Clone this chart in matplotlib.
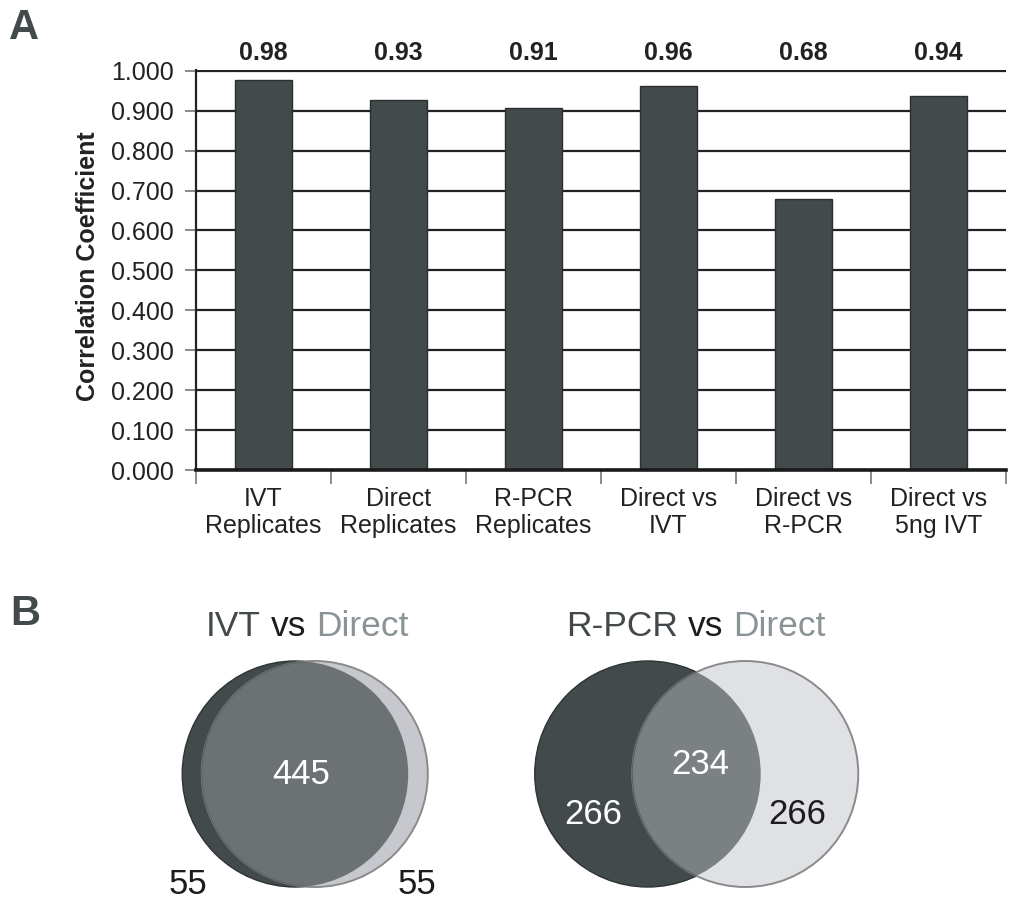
import numpy as np
import matplotlib
matplotlib.use("Agg")
import matplotlib.pyplot as plt
from matplotlib.patches import Circle
from matplotlib.offsetbox import TextArea, HPacker, AnnotationBbox

plt.rcParams['font.family'] = ['Liberation Sans', 'DejaVu Sans']

# panel A data
categories = ["IVT\nReplicates", "Direct\nReplicates", "R-PCR\nReplicates",
              "Direct vs\nIVT", "Direct vs\nR-PCR", "Direct vs\n5ng IVT"]
corr = [0.978, 0.926, 0.907, 0.962, 0.680, 0.936]
corr_labels = ["0.98", "0.93", "0.91", "0.96", "0.68", "0.94"]

# panel B data
venn_a = ["IVT", "R-PCR"]
venn_b = ["Direct", "Direct"]
only_a = [55, 266]
shared = [445, 234]
only_b = [55, 266]

DARK = '#434a4c'

fig = plt.figure(figsize=(10.09, 9.0), dpi=100)

# ---- panel B : venn diagrams in pixel coordinates
vax = fig.add_axes([0, 0, 1, 1])
vax.set_xlim(0, 1009)
vax.set_ylim(900, 0)
vax.axis('off')


def lens_frac(d, r):
    if d >= 2 * r:
        return 0.0
    a = 2 * r * r * np.arccos(d / (2 * r)) - 0.5 * d * np.sqrt(4 * r * r - d * d)
    return a / (np.pi * r * r)


def center_dist(frac, r):
    lo, hi = 0.0, 2 * r
    for _ in range(60):
        mid = (lo + hi) / 2
        if lens_frac(mid, r) > frac:
            lo = mid
        else:
            hi = mid
    return (lo + hi) / 2


R = 113
venn_cx = [305, 696.5]
venn_cy = 774
light_cols = ['#c7c8cd', '#dfe1e5']
over_cols = ['#6c7274', '#7b8182']

for i in range(2):
    frac = shared[i] / (only_a[i] + shared[i])
    d = center_dist(frac, R)
    ca = (venn_cx[i] - d / 2, venn_cy)
    cb = (venn_cx[i] + d / 2, venn_cy)
    dark = Circle(ca, R, fc=DARK, ec='#2e3335', lw=1, zorder=1)
    light = Circle(cb, R, fc=light_cols[i], ec='#8a8a8a', lw=1.4, zorder=2)
    vax.add_patch(dark)
    vax.add_patch(light)
    over = Circle(cb, R, fc=over_cols[i], ec='#5a5f61', lw=0.8, zorder=3)
    vax.add_patch(over)
    over.set_clip_path(dark)

    parts = [TextArea(venn_a[i], textprops=dict(color='#43494b', fontsize=25.5)),
             TextArea("vs", textprops=dict(color='#1c1c1c', fontsize=25.5)),
             TextArea(venn_b[i], textprops=dict(color='#8b9396', fontsize=25.5))]
    pack = HPacker(children=parts, align='baseline', pad=0, sep=7)
    title_x = [307, 696][i]
    vax.add_artist(AnnotationBbox(pack, (title_x, 626), xycoords='data',
                                  frameon=False, box_alignment=(0.5, 0.5)))

# numbers of left venn
vax.text(301, 775, str(shared[0]), color='white', fontsize=25, ha='center', va='center', zorder=5)
vax.text(188, 884, str(only_a[0]), color='#1c1c1c', fontsize=25, ha='center', va='center', zorder=5)
vax.text(417, 884, str(only_b[0]), color='#1c1c1c', fontsize=25, ha='center', va='center', zorder=5)
# numbers of right venn
vax.text(593, 815, str(only_a[1]), color='white', fontsize=25, ha='center', va='center', zorder=5)
vax.text(700, 764, str(shared[1]), color='white', fontsize=25, ha='center', va='center', zorder=5)
vax.text(797, 815, str(only_b[1]), color='#1c1c1c', fontsize=25, ha='center', va='center', zorder=5)

# ---- panel A : bar chart
ax = fig.add_axes([196 / 1009, 430 / 900, 810 / 1009, 400 / 900])
x = np.arange(len(categories))
ax.set_axisbelow(True)
ax.yaxis.grid(True, color='#222222', lw=1.6)
ax.bar(x, corr, width=0.42, color=DARK, edgecolor='#2b2f31', lw=1, zorder=3)

ax.set_xlim(-0.5, len(categories) - 0.5)
ax.set_ylim(0, 1.002)
ax.set_yticks(np.arange(0, 1.01, 0.1))
ax.yaxis.set_major_formatter(matplotlib.ticker.FormatStrFormatter('%.3f'))
ax.tick_params(axis='y', length=8, width=1.2, color='#777777', labelsize=18,
               pad=8, labelcolor='#222222')

ax.set_xticks(x)
ax.set_xticklabels(categories, fontsize=18, linespacing=1.2, color='#222222')
ax.tick_params(axis='x', which='major', length=0, pad=12)
ax.set_xticks(np.arange(-0.5, len(categories), 1), minor=True)
ax.tick_params(axis='x', which='minor', length=10, width=1.2, color='#777777')

for s in ['top', 'right']:
    ax.spines[s].set_visible(False)
ax.spines['left'].set_color('#222222')
ax.spines['left'].set_linewidth(1.6)
ax.spines['bottom'].set_color('#1a1a1a')
ax.spines['bottom'].set_linewidth(2.6)
ax.spines['bottom'].set_zorder(4)

for xi, lab in zip(x, corr_labels):
    ax.text(xi, 1.045, lab, ha='center', va='center', fontsize=18,
            fontweight='bold', color='#222222', clip_on=False)

fig.text(88 / 1009, 1 - 266 / 900, "Correlation Coefficient", rotation=90,
         ha='center', va='center', fontsize=18, fontweight='bold', color='#222222')

fig.text(24 / 1009, 1 - 28 / 900, "A", fontsize=30, fontweight='bold', color=DARK,
         ha='center', va='center')
fig.text(25 / 1009, 1 - 614 / 900, "B", fontsize=30, fontweight='bold', color=DARK,
         ha='center', va='center')

fig.savefig("out.png", dpi=100)
